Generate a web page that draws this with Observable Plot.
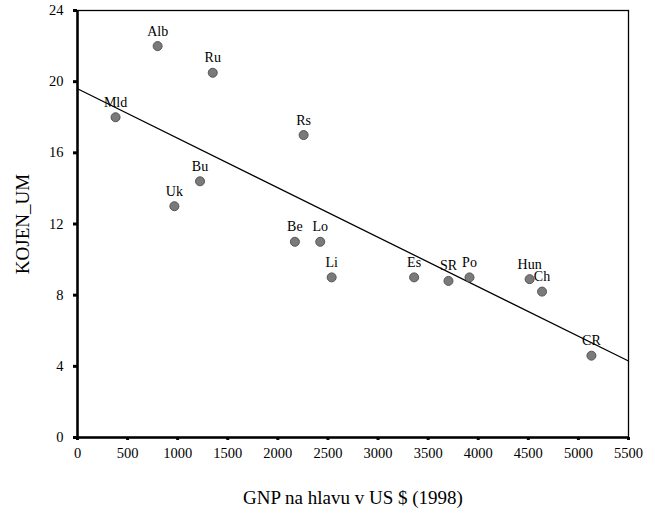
<!DOCTYPE html>
<html>
<head>
<meta charset="utf-8">
<script src="https://cdn.jsdelivr.net/npm/d3@7"></script>
<script src="https://cdn.jsdelivr.net/npm/@observablehq/plot@0.6"></script>
<style>
  html, body { margin: 0; padding: 0; background: white; }
  svg, svg text { font-family: "Liberation Serif", serif !important; }
</style>
</head>
<body>
<div id="chart"></div>
<script>
const countries = ["Alb", "Ru", "Mld", "Rs", "Bu", "Uk", "Be", "Lo", "Li", "Es", "SR", "Po", "Hun", "Ch", "CR"];
const gnp = [800, 1350, 380, 2257, 1223, 967, 2170, 2423, 2537, 3360, 3703, 3913, 4513, 4637, 5130];
const kojenUm = [22, 20.5, 18, 17, 14.4, 13, 11, 11, 9, 9, 8.8, 9, 8.9, 8.2, 4.6];
const fitX = [0, 5500];
const fitY = [19.6, 4.3];
const xTicks = [0, 500, 1000, 1500, 2000, 2500, 3000, 3500, 4000, 4500, 5000, 5500];
const yTicks = [0, 4, 8, 12, 16, 20, 24];

const data = countries.map((c, i) => ({name: c, x: gnp[i], y: kojenUm[i]}));
const fit = fitX.map((x, i) => ({x, y: fitY[i]}));
const ff = "Liberation Serif";

const chart = Plot.plot({
  width: 655,
  height: 515,
  marginLeft: 77,
  marginTop: 10,
  marginRight: 27,
  marginBottom: 78,
  style: {fontFamily: ff, fontSize: "14px", background: "white", color: "black"},
  x: {domain: [0, 5500]},
  y: {domain: [0, 24]},
  marks: [
    Plot.frame({stroke: "black", strokeWidth: 1.3}),
    Plot.ruleX([0], {stroke: "black", strokeWidth: 2.5}),
    Plot.ruleY([0], {stroke: "black", strokeWidth: 2.5}),
    Plot.axisX({ticks: xTicks, tickSize: 3, strokeWidth: 3, tickPadding: 7, tickFormat: d => String(d), fontSize: 14.5, fontFamily: ff,
      label: null}),
    Plot.text(["GNP na hlavu v US $ (1998)"], {frameAnchor: "bottom", textAnchor: "middle", lineAnchor: "middle", dy: 60, fontSize: 19, fontFamily: ff, text: d => d}),
    Plot.axisY({ticks: yTicks, tickSize: 4, strokeWidth: 3, tickPadding: 10, tickFormat: d => String(d), label: null, fontSize: 14.5, fontFamily: ff}),
    Plot.text(["KOJEN_UM"], {frameAnchor: "left", textAnchor: "middle", lineAnchor: "middle", dx: -55, rotate: -90, fontSize: 19, fontFamily: ff, text: d => d}),
    Plot.line(fit, {x: "x", y: "y", stroke: "black", strokeWidth: 1.3}),
    Plot.dot(data, {x: "x", y: "y", r: 4.5, fill: "#7a7a7a", stroke: "#555", strokeWidth: 1}),
    Plot.text(data, {x: "x", y: "y", text: "name", dy: -15, fontSize: 14, fontFamily: ff, fill: "black"})
  ]
});
document.getElementById("chart").appendChild(chart);
</script>
</body>
</html>
